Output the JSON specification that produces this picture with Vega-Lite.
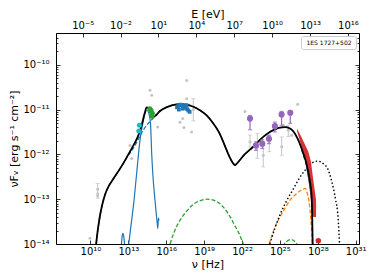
{
  "$schema": "https://vega.github.io/schema/vega-lite/v6.json",
  "width": 303,
  "height": 211,
  "autosize": "none",
  "padding": {"left": 56, "top": 33, "right": 15, "bottom": 36},
  "config": {
    "font": "DejaVu Sans",
    "view": {"stroke": "black", "strokeWidth": 1},
    "axis": {"domain": false, "grid": false, "tickColor": "black", "tickWidth": 0.8, "labelFont": "DejaVu Sans", "labelFontSize": 10, "labelColor": "black", "titleFont": "DejaVu Sans", "titleFontSize": 11, "titleFontWeight": "normal", "titleColor": "black"}
  },
  "datasets": {
    "black": [
      {"nu": 2.818e10, "f": 1e-14}, {"nu": 3.548e10, "f": 1.778e-14}, {"nu": 4.467e10, "f": 2.818e-14}, {"nu": 5.623e10, "f": 4.266e-14}, {"nu": 8.913e10, "f": 7.943e-14}, {"nu": 1.413e11, "f": 1.259e-13}, {"nu": 3.162e11, "f": 2.089e-13}, {"nu": 6.31e11, "f": 2.818e-13}, {"nu": 1.259e12, "f": 3.802e-13}, {"nu": 3.981e12, "f": 6.31e-13}, {"nu": 1e13, "f": 1e-12}, {"nu": 2.512e13, "f": 1.585e-12}, {"nu": 6.31e13, "f": 2.692e-12}, {"nu": 1.122e14, "f": 4.467e-12}, {"nu": 1.995e14, "f": 8.511e-12}, {"nu": 2.818e14, "f": 1.122e-11}, {"nu": 3.981e14, "f": 1.072e-11}, {"nu": 6.31e14, "f": 7.943e-12}, {"nu": 9.333e14, "f": 6.761e-12}, {"nu": 1.585e15, "f": 7.586e-12}, {"nu": 3.162e15, "f": 9.333e-12}, {"nu": 1e16, "f": 1.122e-11}, {"nu": 3.162e16, "f": 1.259e-11}, {"nu": 1.259e17, "f": 1.318e-11}, {"nu": 3.981e17, "f": 1.288e-11}, {"nu": 1.259e18, "f": 1.175e-11}, {"nu": 5.012e18, "f": 9.55e-12}, {"nu": 1.585e19, "f": 7.413e-12}, {"nu": 5.012e19, "f": 5.012e-12}, {"nu": 1.585e20, "f": 3.02e-12}, {"nu": 3.981e20, "f": 1.66e-12}, {"nu": 1e21, "f": 8.913e-13}, {"nu": 1.995e21, "f": 6.31e-13}, {"nu": 2.818e21, "f": 5.754e-13}, {"nu": 3.981e21, "f": 6.31e-13}, {"nu": 7.079e21, "f": 7.586e-13}, {"nu": 1.585e22, "f": 1e-12}, {"nu": 3.981e22, "f": 1.259e-12}, {"nu": 1e23, "f": 1.585e-12}, {"nu": 2.512e23, "f": 2.089e-12}, {"nu": 6.31e23, "f": 2.63e-12}, {"nu": 1.585e24, "f": 3.162e-12}, {"nu": 3.981e24, "f": 3.631e-12}, {"nu": 1e25, "f": 3.981e-12}, {"nu": 2.512e25, "f": 4.074e-12}, {"nu": 6.31e25, "f": 3.802e-12}, {"nu": 1.259e26, "f": 3.162e-12}, {"nu": 2.239e26, "f": 2.399e-12}, {"nu": 3.981e26, "f": 1.66e-12}, {"nu": 7.079e26, "f": 1.047e-12}, {"nu": 1.122e27, "f": 7.079e-13}, {"nu": 1.778e27, "f": 3.981e-13}, {"nu": 2.512e27, "f": 2.239e-13}, {"nu": 3.162e27, "f": 1.259e-13}, {"nu": 3.548e27, "f": 5.012e-14}, {"nu": 3.802e27, "f": 1.585e-14}, {"nu": 3.981e27, "f": 7.943e-15}
    ],
    "sync": [
      {"nu": 2.818e10, "f": 1e-14}, {"nu": 3.548e10, "f": 1.778e-14}, {"nu": 4.467e10, "f": 2.818e-14}, {"nu": 5.623e10, "f": 4.266e-14}, {"nu": 8.913e10, "f": 7.943e-14}, {"nu": 1.413e11, "f": 1.259e-13}, {"nu": 3.162e11, "f": 2.089e-13}, {"nu": 6.31e11, "f": 2.818e-13}, {"nu": 1.259e12, "f": 3.802e-13}, {"nu": 3.981e12, "f": 6.31e-13}, {"nu": 1e13, "f": 9.55e-13}, {"nu": 1.995e13, "f": 1.259e-12}, {"nu": 3.981e13, "f": 1.738e-12}, {"nu": 7.943e13, "f": 2.512e-12}, {"nu": 1.585e14, "f": 3.548e-12}, {"nu": 3.162e14, "f": 4.677e-12}, {"nu": 6.31e14, "f": 5.754e-12}, {"nu": 1e15, "f": 6.607e-12}, {"nu": 1.585e15, "f": 7.413e-12}, {"nu": 3.162e15, "f": 9.12e-12}, {"nu": 1e16, "f": 1.122e-11}, {"nu": 3.162e16, "f": 1.259e-11}, {"nu": 1.259e17, "f": 1.318e-11}, {"nu": 3.981e17, "f": 1.288e-11}, {"nu": 1.259e18, "f": 1.175e-11}, {"nu": 5.012e18, "f": 9.55e-12}, {"nu": 1.585e19, "f": 7.413e-12}, {"nu": 5.012e19, "f": 5.012e-12}, {"nu": 1.585e20, "f": 3.02e-12}, {"nu": 3.981e20, "f": 1.66e-12}, {"nu": 1e21, "f": 8.913e-13}, {"nu": 1.995e21, "f": 6.31e-13}, {"nu": 2.818e21, "f": 5.754e-13}, {"nu": 3.981e21, "f": 6.31e-13}, {"nu": 7.079e21, "f": 7.586e-13}, {"nu": 1.585e22, "f": 1e-12}, {"nu": 3.981e22, "f": 1.259e-12}, {"nu": 1e23, "f": 1.585e-12}, {"nu": 2.512e23, "f": 2.089e-12}, {"nu": 6.31e23, "f": 2.63e-12}, {"nu": 1.585e24, "f": 3.162e-12}, {"nu": 3.981e24, "f": 3.631e-12}, {"nu": 1e25, "f": 3.981e-12}, {"nu": 2.512e25, "f": 4.074e-12}, {"nu": 6.31e25, "f": 3.802e-12}, {"nu": 1.259e26, "f": 3.162e-12}, {"nu": 2.239e26, "f": 2.399e-12}, {"nu": 3.981e26, "f": 1.66e-12}, {"nu": 7.079e26, "f": 9.55e-13}, {"nu": 1.122e27, "f": 6.31e-13}, {"nu": 1.778e27, "f": 3.311e-13}, {"nu": 2.512e27, "f": 1.778e-13}, {"nu": 3.162e27, "f": 1e-13}, {"nu": 3.548e27, "f": 3.981e-14}, {"nu": 3.802e27, "f": 7.943e-15}
    ],
    "host": [
      {"nu": 2.239e12, "f": 5.012e-15}, {"nu": 2.818e12, "f": 1e-14}, {"nu": 3.311e12, "f": 1.585e-14}, {"nu": 3.715e12, "f": 1.738e-14}, {"nu": 4.266e12, "f": 1.514e-14}, {"nu": 5.012e12, "f": 1e-14}, {"nu": 6.31e12, "f": 5.012e-15}, {"nu": 8.913e12, "f": 6.31e-15}, {"nu": 1.072e13, "f": 1e-14}, {"nu": 1.622e13, "f": 2.63e-14}, {"nu": 2.818e13, "f": 9.55e-14}, {"nu": 4.786e13, "f": 4.467e-13}, {"nu": 8.318e13, "f": 2.089e-12}, {"nu": 1.445e14, "f": 5.248e-12}, {"nu": 2.089e14, "f": 8.318e-12}, {"nu": 3.02e14, "f": 9.55e-12}, {"nu": 4.169e14, "f": 8.318e-12}, {"nu": 5.623e14, "f": 5.012e-12}, {"nu": 7.079e14, "f": 1e-12}, {"nu": 8.913e14, "f": 3.162e-13}, {"nu": 1.259e15, "f": 1e-13}, {"nu": 1.585e15, "f": 5.012e-14}, {"nu": 1.862e15, "f": 3.162e-14}, {"nu": 2.138e15, "f": 2.239e-14}, {"nu": 2.399e15, "f": 3.802e-14}, {"nu": 2.692e15, "f": 3.311e-14}
    ],
    "brems": [
      {"nu": 1.995e16, "f": 1e-14}, {"nu": 3.981e16, "f": 1.778e-14}, {"nu": 1.23e17, "f": 3.388e-14}, {"nu": 3.981e17, "f": 5.37e-14}, {"nu": 1.585e18, "f": 7.943e-14}, {"nu": 5.012e18, "f": 9.333e-14}, {"nu": 1.995e19, "f": 1e-13}, {"nu": 7.943e19, "f": 9.12e-14}, {"nu": 3.162e20, "f": 6.761e-14}, {"nu": 1.122e21, "f": 4.074e-14}, {"nu": 2.818e21, "f": 2.512e-14}, {"nu": 5.012e21, "f": 1.862e-14}, {"nu": 1.259e22, "f": 1e-14}
    ],
    "green2": [
      {"nu": 1.585e25, "f": 8.913e-15}, {"nu": 3.162e25, "f": 1.122e-14}, {"nu": 7.943e25, "f": 1.259e-14}, {"nu": 1.585e26, "f": 1.122e-14}, {"nu": 2.818e26, "f": 8.913e-15}
    ],
    "orange": [
      {"nu": 1.413e24, "f": 1e-14}, {"nu": 3.162e24, "f": 1.995e-14}, {"nu": 7.943e24, "f": 3.548e-14}, {"nu": 1.995e25, "f": 5.623e-14}, {"nu": 6.31e25, "f": 9.55e-14}, {"nu": 1.995e26, "f": 1.318e-13}, {"nu": 6.31e26, "f": 1.66e-13}, {"nu": 1e27, "f": 1.738e-13}, {"nu": 1.413e27, "f": 1.413e-13}, {"nu": 1.995e27, "f": 8.913e-14}, {"nu": 2.818e27, "f": 3.548e-14}, {"nu": 3.548e27, "f": 1.259e-14}, {"nu": 3.802e27, "f": 7.943e-15}
    ],
    "dotted": [
      {"nu": 1.585e24, "f": 1e-14}, {"nu": 3.981e24, "f": 2.239e-14}, {"nu": 1e25, "f": 4.467e-14}, {"nu": 3.162e25, "f": 8.913e-14}, {"nu": 1e26, "f": 1.585e-13}, {"nu": 3.162e26, "f": 2.818e-13}, {"nu": 1e27, "f": 4.467e-13}, {"nu": 3.162e27, "f": 6.31e-13}, {"nu": 1e28, "f": 7.079e-13}, {"nu": 2.512e28, "f": 6.31e-13}, {"nu": 6.31e28, "f": 4.677e-13}, {"nu": 1.259e29, "f": 2.512e-13}, {"nu": 2.512e29, "f": 1e-13}, {"nu": 3.981e29, "f": 3.981e-14}, {"nu": 5.248e29, "f": 1e-14}
    ],
    "bowtie": [
      {"nu": 2.239e26, "hi": 3.802e-12, "lo": 3.311e-12}, {"nu": 5.248e26, "hi": 2.399e-12, "lo": 1.479e-12}, {"nu": 9.55e26, "hi": 1.66e-12, "lo": 7.413e-13}, {"nu": 1.778e27, "hi": 1.148e-12, "lo": 2.692e-13}, {"nu": 2.884e27, "hi": 6.761e-13, "lo": 9.55e-14}, {"nu": 4.365e27, "hi": 2.692e-13, "lo": 3.981e-14}, {"nu": 7.244e27, "hi": 9.55e-14, "lo": 3.981e-14}
    ],
    "grey": [
      {"nu": 9.12e9, "f": 1.349e-14}, {"nu": 3.715e10, "f": 1.66e-13, "lo": 1.047e-13, "hi": 2.239e-13}, {"nu": 3.715e10, "f": 1.318e-13}, {"nu": 3.715e10, "f": 1.175e-13},
      {"nu": 1.349e13, "f": 1.585e-12}, {"nu": 1.82e13, "f": 8.128e-13}, {"nu": 5.129e14, "f": 2.692e-11}, {"nu": 7.079e14, "f": 2.089e-11}, {"nu": 2.089e15, "f": 4.074e-12},
      {"nu": 4.169e17, "f": 4.467e-11}, {"nu": 4.169e17, "f": 1.738e-11}, {"nu": 1.23e17, "f": 5.248e-12}, {"nu": 1.995e17, "f": 6.31e-12}, {"nu": 1.38e18, "f": 1e-11, "lo": 5.623e-12, "hi": 1.778e-11}, {"nu": 1.023e18, "f": 3.162e-12}, {"nu": 2.512e17, "f": 3.981e-12},
      {"nu": 1.698e22, "f": 9.12e-12}, {"nu": 4.266e22, "f": 1.905e-12, "lo": 1.479e-12, "hi": 2.692e-12}, {"nu": 1.622e23, "f": 1.479e-12, "lo": 8.128e-13, "hi": 2.951e-12}, {"nu": 4.786e23, "f": 9.55e-13, "lo": 5.248e-13, "hi": 1.585e-12}, {"nu": 1.445e24, "f": 2.089e-12, "lo": 1.148e-12, "hi": 2.692e-12}, {"nu": 1.38e25, "f": 1.479e-12, "lo": 9.55e-13, "hi": 2.455e-12}, {"nu": 1.862e25, "f": 4.467e-12}, {"nu": 4.571e25, "f": 3.467e-12, "lo": 2.512e-12, "hi": 4.467e-12}, {"nu": 8.511e25, "f": 2.692e-12}, {"nu": 2.512e26, "f": 1.318e-11}
    ],
    "cyan": [{"nu": 7.413e13, "f": 4.467e-12}, {"nu": 6.607e13, "f": 3.311e-12}],
    "green": [{"nu": 5.012e14, "f": 1.047e-11}, {"nu": 6.31e14, "f": 9.55e-12}, {"nu": 7.943e14, "f": 8.318e-12}, {"nu": 7.079e14, "f": 7.079e-12}],
    "xray": [
      {"nu": 7.079e16, "f": 1.122e-11}, {"nu": 8.913e16, "f": 1.202e-11}, {"nu": 1.122e17, "f": 1.259e-11}, {"nu": 1.413e17, "f": 1.288e-11}, {"nu": 1.778e17, "f": 1.259e-11}, {"nu": 2.239e17, "f": 1.202e-11}, {"nu": 2.818e17, "f": 1.148e-11}, {"nu": 3.548e17, "f": 1.096e-11}, {"nu": 4.467e17, "f": 1.023e-11}, {"nu": 5.623e17, "f": 9.55e-12}, {"nu": 7.079e17, "f": 8.913e-12}, {"nu": 1e17, "f": 1e-11}, {"nu": 1.995e17, "f": 1.047e-11}, {"nu": 3.981e17, "f": 1.259e-11}
    ],
    "fermi": [
      {"nu": 4.266e22, "f": 6.31e-12, "lo": 3.548e-12, "hi": 7.413e-12}, {"nu": 1.259e23, "f": 1.585e-12, "lo": 1.23e-12, "hi": 1.905e-12}, {"nu": 3.981e23, "f": 1.738e-12, "lo": 1.349e-12, "hi": 2.138e-12}, {"nu": 1.349e24, "f": 2.239e-12, "lo": 1.738e-12, "hi": 2.692e-12}, {"nu": 3.981e24, "f": 4.266e-12, "lo": 3.162e-12, "hi": 5.248e-12}, {"nu": 1.349e25, "f": 7.762e-12, "lo": 4.467e-12, "hi": 9.12e-12}, {"nu": 6.607e25, "f": 8.511e-12, "lo": 4.898e-12, "hi": 9.55e-12}
    ],
    "tev": [{"nu": 1.096e28, "f": 1.175e-14}],
    "frame": [{"nu": 1e20, "f": 1e-12}]
  },
  "layer": [
    {
      "layer": [
        {
          "data": {"name": "grey"},
          "transform": [{"filter": "isValid(datum.lo)"}],
          "mark": {"type": "errorbar", "ticks": {"size": 4}, "color": "#c4c4c4", "thickness": 1},
          "encoding": {
            "x": {"field": "nu", "type": "quantitative", "title": "ν [Hz]", "scale": {"type": "log", "domain": [1.862e7, 1.82e31], "nice": false},
              "axis": {"orient": "bottom", "title": "ν [Hz]", "values": [1e10, 1e13, 1e16, 1e19, 1e22, 1e25, 1e28, 1e31], "tickSize": -4, "labelPadding": 6, "titlePadding": 2,
                "labelExpr": "'10' + replace(replace(replace(replace(replace(replace(replace(replace(replace(replace(replace(toString(round(log(datum.value)/LN10)), regexp('-','g'), '⁻'), regexp('0','g'), '⁰'), regexp('1','g'), '¹'), regexp('2','g'), '²'), regexp('3','g'), '³'), regexp('4','g'), '⁴'), regexp('5','g'), '⁵'), regexp('6','g'), '⁶'), regexp('7','g'), '⁷'), regexp('8','g'), '⁸'), regexp('9','g'), '⁹')"}},
            "y": {"field": "lo", "type": "quantitative", "title": "νFᵥ [erg s⁻¹ cm⁻²]", "scale": {"type": "log", "domain": [1e-14, 5.129e-10], "nice": false},
              "axis": {"orient": "left", "title": "νFᵥ [erg s⁻¹ cm⁻²]", "titlePadding": 3,
                "values": [1e-14, 2e-14, 3e-14, 4e-14, 5e-14, 6e-14, 7e-14, 8e-14, 9e-14, 1e-13, 2e-13, 3e-13, 4e-13, 5e-13, 6e-13, 7e-13, 8e-13, 9e-13, 1e-12, 2e-12, 3e-12, 4e-12, 5e-12, 6e-12, 7e-12, 8e-12, 9e-12, 1e-11, 2e-11, 3e-11, 4e-11, 5e-11, 6e-11, 7e-11, 8e-11, 9e-11, 1e-10, 2e-10, 3e-10, 4e-10, 5e-10],
                "tickSize": {"condition": {"test": "abs(log(datum.value)/LN10 - round(log(datum.value)/LN10)) < 0.01", "value": -4}, "value": -2},
                "labelPadding": 11,
                "labelExpr": "abs(log(datum.value)/LN10 - round(log(datum.value)/LN10)) > 0.01 ? '' : '10' + replace(replace(replace(replace(replace(replace(replace(replace(replace(replace(replace(toString(round(log(datum.value)/LN10)), regexp('-','g'), '⁻'), regexp('0','g'), '⁰'), regexp('1','g'), '¹'), regexp('2','g'), '²'), regexp('3','g'), '³'), regexp('4','g'), '⁴'), regexp('5','g'), '⁵'), regexp('6','g'), '⁶'), regexp('7','g'), '⁷'), regexp('8','g'), '⁸'), regexp('9','g'), '⁹')"}},
            "y2": {"field": "hi", "title": "νFᵥ [erg s⁻¹ cm⁻²]"}
          }
        },
        {
          "data": {"name": "grey"},
          "mark": {"type": "point", "filled": true, "color": "#c4c4c4", "size": 9, "opacity": 1},
          "encoding": {"x": {"field": "nu", "type": "quantitative", "title": "ν [Hz]"}, "y": {"field": "f", "type": "quantitative", "title": "νFᵥ [erg s⁻¹ cm⁻²]"}}
        },
        {
          "data": {"name": "host"},
          "mark": {"type": "line", "color": "#1f77b4", "strokeWidth": 1.2, "clip": true, "interpolate": "monotone"},
          "encoding": {"x": {"field": "nu", "type": "quantitative", "title": "ν [Hz]"}, "y": {"field": "f", "type": "quantitative", "title": "νFᵥ [erg s⁻¹ cm⁻²]"}}
        },
        {
          "data": {"name": "brems"},
          "mark": {"type": "line", "color": "#2ca02c", "strokeWidth": 1.3, "strokeDash": [4, 2], "clip": true, "interpolate": "monotone"},
          "encoding": {"x": {"field": "nu", "type": "quantitative", "title": "ν [Hz]"}, "y": {"field": "f", "type": "quantitative", "title": "νFᵥ [erg s⁻¹ cm⁻²]"}}
        },
        {
          "data": {"name": "green2"},
          "mark": {"type": "line", "color": "#2ca02c", "strokeWidth": 1.3, "strokeDash": [4, 2], "clip": true, "interpolate": "monotone"},
          "encoding": {"x": {"field": "nu", "type": "quantitative", "title": "ν [Hz]"}, "y": {"field": "f", "type": "quantitative", "title": "νFᵥ [erg s⁻¹ cm⁻²]"}}
        },
        {
          "data": {"name": "orange"},
          "mark": {"type": "line", "color": "#ff7f0e", "strokeWidth": 1.3, "strokeDash": [4, 2], "clip": true, "interpolate": "monotone"},
          "encoding": {"x": {"field": "nu", "type": "quantitative", "title": "ν [Hz]"}, "y": {"field": "f", "type": "quantitative", "title": "νFᵥ [erg s⁻¹ cm⁻²]"}}
        },
        {
          "data": {"name": "dotted"},
          "mark": {"type": "line", "color": "black", "strokeWidth": 1.4, "strokeDash": [1.5, 2.2], "clip": true, "interpolate": "monotone"},
          "encoding": {"x": {"field": "nu", "type": "quantitative", "title": "ν [Hz]"}, "y": {"field": "f", "type": "quantitative", "title": "νFᵥ [erg s⁻¹ cm⁻²]"}}
        },
        {
          "data": {"name": "bowtie"},
          "mark": {"type": "area", "color": "#d62728", "opacity": 0.95, "clip": true},
          "encoding": {"x": {"field": "nu", "type": "quantitative", "title": "ν [Hz]"}, "y": {"field": "hi", "type": "quantitative", "title": "νFᵥ [erg s⁻¹ cm⁻²]"}, "y2": {"field": "lo", "title": "νFᵥ [erg s⁻¹ cm⁻²]"}}
        },
        {
          "data": {"name": "sync"},
          "mark": {"type": "line", "color": "#1f77b4", "strokeWidth": 1.3, "strokeDash": [4, 2], "clip": true, "interpolate": "monotone"},
          "encoding": {"x": {"field": "nu", "type": "quantitative", "title": "ν [Hz]"}, "y": {"field": "f", "type": "quantitative", "title": "νFᵥ [erg s⁻¹ cm⁻²]"}}
        },
        {
          "data": {"name": "black"},
          "mark": {"type": "line", "color": "black", "strokeWidth": 1.8, "clip": true, "interpolate": "monotone"},
          "encoding": {"x": {"field": "nu", "type": "quantitative", "title": "ν [Hz]"}, "y": {"field": "f", "type": "quantitative", "title": "νFᵥ [erg s⁻¹ cm⁻²]"}}
        },
        {
          "data": {"name": "cyan"},
          "mark": {"type": "point", "filled": true, "color": "#17becf", "size": 25, "opacity": 1},
          "encoding": {"x": {"field": "nu", "type": "quantitative", "title": "ν [Hz]"}, "y": {"field": "f", "type": "quantitative", "title": "νFᵥ [erg s⁻¹ cm⁻²]"}}
        },
        {
          "data": {"name": "green"},
          "mark": {"type": "point", "filled": true, "color": "#2ca02c", "size": 25, "opacity": 1},
          "encoding": {"x": {"field": "nu", "type": "quantitative", "title": "ν [Hz]"}, "y": {"field": "f", "type": "quantitative", "title": "νFᵥ [erg s⁻¹ cm⁻²]"}}
        },
        {
          "data": {"name": "xray"},
          "mark": {"type": "point", "filled": true, "color": "#1f77b4", "size": 14, "shape": "square", "opacity": 1},
          "encoding": {"x": {"field": "nu", "type": "quantitative", "title": "ν [Hz]"}, "y": {"field": "f", "type": "quantitative", "title": "νFᵥ [erg s⁻¹ cm⁻²]"}}
        },
        {
          "data": {"name": "fermi"},
          "mark": {"type": "errorbar", "ticks": {"size": 4}, "color": "#9467bd", "thickness": 1.2},
          "encoding": {"x": {"field": "nu", "type": "quantitative", "title": "ν [Hz]"}, "y": {"field": "lo", "type": "quantitative", "title": "νFᵥ [erg s⁻¹ cm⁻²]"}, "y2": {"field": "hi", "title": "νFᵥ [erg s⁻¹ cm⁻²]"}}
        },
        {
          "data": {"name": "fermi"},
          "mark": {"type": "point", "filled": true, "color": "#9467bd", "size": 38, "opacity": 1},
          "encoding": {"x": {"field": "nu", "type": "quantitative", "title": "ν [Hz]"}, "y": {"field": "f", "type": "quantitative", "title": "νFᵥ [erg s⁻¹ cm⁻²]"}}
        },
        {
          "data": {"name": "tev"},
          "mark": {"type": "point", "filled": true, "size": 30, "opacity": 1},
          "encoding": {
            "x": {"field": "nu", "type": "quantitative", "title": "ν [Hz]"}, "y": {"field": "f", "type": "quantitative", "title": "νFᵥ [erg s⁻¹ cm⁻²]"},
            "color": {"datum": "1ES 1727+502", "scale": {"range": ["#d62728"]},
              "legend": {"orient": "top-right", "title": null, "offset": 3, "symbolSize": 0, "symbolStrokeWidth": 0, "labelOffset": -4, "labelFont": "DejaVu Sans", "labelFontSize": 6, "labelColor": "black", "padding": 3.5, "strokeColor": "#cccccc", "fillColor": "white", "cornerRadius": 2}}
          }
        }
      ]
    },
    {
      "data": {"name": "frame"},
      "mark": {"type": "point", "opacity": 0},
      "encoding": {
        "x": {"field": "nu", "type": "quantitative",
          "axis": {"orient": "top", "title": "E [eV]", "values": [2.418e9, 2.418e12, 2.418e15, 2.418e18, 2.418e21, 2.418e24, 2.418e27, 2.418e30], "tickSize": -4, "labelPadding": 7, "titlePadding": 1,
            "labelExpr": "'10' + replace(replace(replace(replace(replace(replace(replace(replace(replace(replace(replace(toString(round(log(datum.value)/LN10 - 14.3835)), regexp('-','g'), '⁻'), regexp('0','g'), '⁰'), regexp('1','g'), '¹'), regexp('2','g'), '²'), regexp('3','g'), '³'), regexp('4','g'), '⁴'), regexp('5','g'), '⁵'), regexp('6','g'), '⁶'), regexp('7','g'), '⁷'), regexp('8','g'), '⁸'), regexp('9','g'), '⁹')"}},
        "y": {"field": "f", "type": "quantitative",
          "axis": {"orient": "right", "title": null, "labels": false,
            "values": [1e-14, 2e-14, 3e-14, 4e-14, 5e-14, 6e-14, 7e-14, 8e-14, 9e-14, 1e-13, 2e-13, 3e-13, 4e-13, 5e-13, 6e-13, 7e-13, 8e-13, 9e-13, 1e-12, 2e-12, 3e-12, 4e-12, 5e-12, 6e-12, 7e-12, 8e-12, 9e-12, 1e-11, 2e-11, 3e-11, 4e-11, 5e-11, 6e-11, 7e-11, 8e-11, 9e-11, 1e-10, 2e-10, 3e-10, 4e-10, 5e-10],
            "tickSize": {"condition": {"test": "abs(log(datum.value)/LN10 - round(log(datum.value)/LN10)) < 0.01", "value": -4}, "value": -2}}}
      }
    }
  ],
  "resolve": {"axis": {"x": "independent", "y": "independent"}}
}
